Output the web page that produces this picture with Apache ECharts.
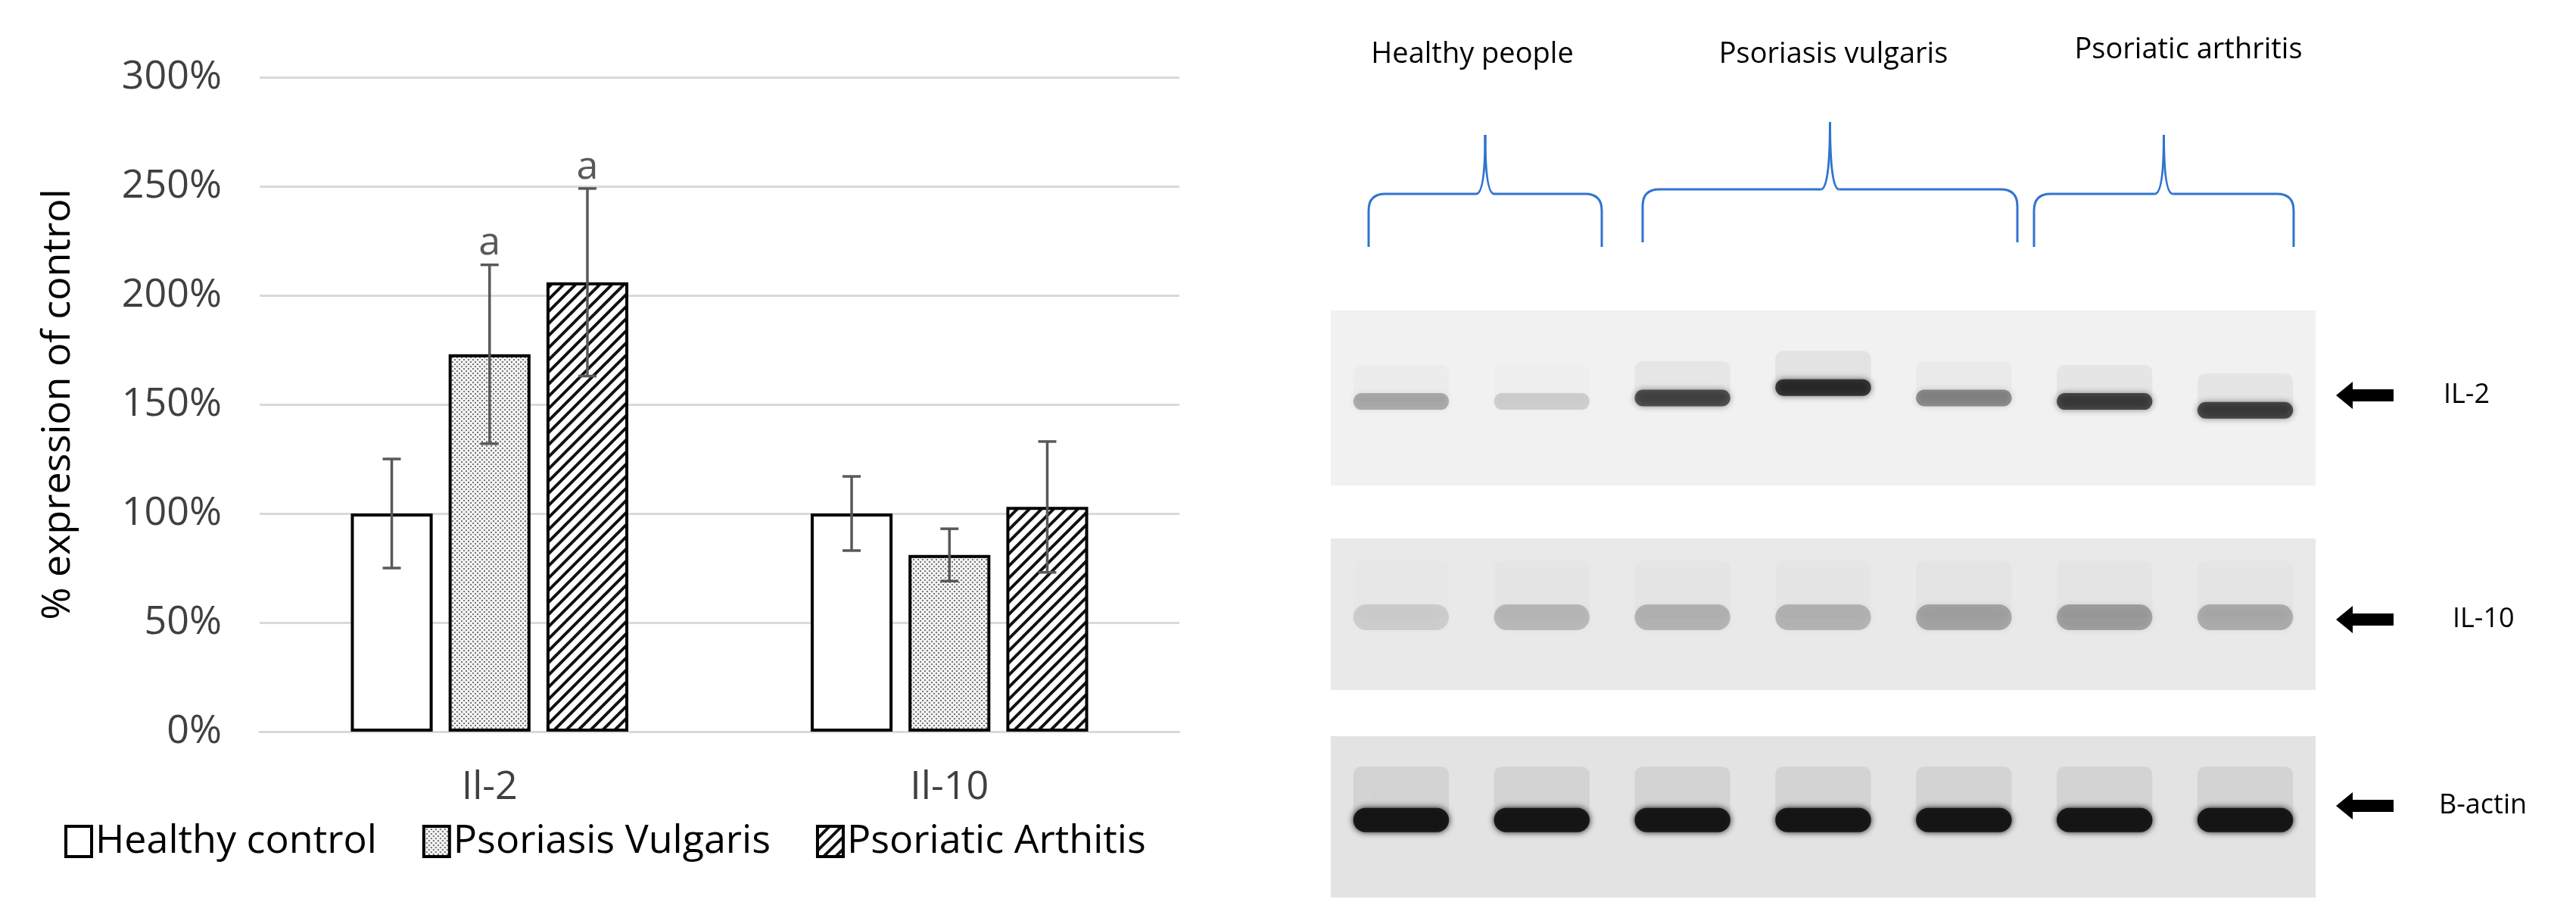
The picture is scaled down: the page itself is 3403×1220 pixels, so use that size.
<!DOCTYPE html>
<html>
<head>
<meta charset="utf-8">
<title>IL-2 / IL-10 expression</title>
<script src="https://cdn.jsdelivr.net/npm/echarts@6/dist/echarts.min.js"></script>
<style>html,body{margin:0;padding:0;background:#fff}#main{width:3403px;height:1220px}</style>
</head>
<body>
<div id="main"></div>
<script>
// 柱状图数据
var categories = ['Il-2', 'Il-10'];
var groups = ['Healthy control', 'Psoriasis Vulgaris', 'Psoriatic Arthitis'];
var healthy = [1.00, 1.00];
var vulgaris = [1.73, 0.81];
var arthritis = [2.06, 1.03];
var healthyErr = [0.25, 0.17];
var vulgarisErr = [0.41, 0.12];
var arthritisErr = [0.43, 0.30];
var vulgarisSig = ['a', ''];
var arthritisSig = ['a', ''];

// 印迹图数据（条带强度 0-1，纵向偏移）
var lanes = ['1', '2', '3', '4', '5', '6', '7'];
var il2Band = [0.35, 0.18, 0.8, 0.95, 0.5, 0.85, 0.85];
var il2Shift = [0, 0, 0.02, 0.08, 0.02, 0.0, -0.05];
var il10Band = [0.12, 0.2, 0.22, 0.22, 0.28, 0.3, 0.25];
var actinBand = [1, 1, 1, 1, 1, 1, 1];
var groupNames = ['Healthy people', 'Psoriasis vulgaris', 'Psoriatic arthritis'];
var blotLabels = ['IL-2', 'IL-10', 'B-actin'];

function dots() {
    var c = document.createElement('canvas'); c.width = 6; c.height = 6;
    var g = c.getContext('2d');
    g.fillStyle = '#f2f2f2'; g.fillRect(0, 0, 6, 6);
    g.fillStyle = '#777'; g.fillRect(0, 0, 2, 2); g.fillRect(3, 3, 2, 2);
    return {image: c, repeat: 'repeat'};
}
function hatch() {
    var s = 16;
    var c = document.createElement('canvas'); c.width = s; c.height = s;
    var g = c.getContext('2d');
    g.fillStyle = '#fff'; g.fillRect(0, 0, s, s);
    g.strokeStyle = '#111'; g.lineWidth = 4;
    g.beginPath();
    g.moveTo(-2, s + 2); g.lineTo(s + 2, -2);
    g.moveTo(-2, 2); g.lineTo(2, -2);
    g.moveTo(s - 2, s + 2); g.lineTo(s + 2, s - 2);
    g.stroke();
    return {image: c, repeat: 'repeat'};
}

var chart = echarts.init(document.getElementById('main'));
var font = '"Open Sans", sans-serif';
var values = [healthy, vulgaris, arthritis];
var errs = [healthyErr, vulgarisErr, arthritisErr];
var sigs = [['', ''], vulgarisSig, arthritisSig];
var fills = ['#fff', dots(), hatch()];
var barRatio = 0.178, gapRatio = 0.195;

var series = [];
groups.forEach(function (name, i) {
    series.push({
        name: name, type: 'bar', xAxisIndex: 0, yAxisIndex: 0,
        barWidth: (barRatio * 100) + '%', barGap: (gapRatio * 100) + '%',
        data: values[i],
        itemStyle: {color: fills[i], borderColor: '#000', borderWidth: 4}
    });
});
groups.forEach(function (name, i) {
    series.push({
        type: 'custom', xAxisIndex: 0, yAxisIndex: 0, z: 5,
        data: values[i].map(function (v, k) { return [k, v, errs[i][k]]; }),
        renderItem: function (params, api) {
            var band = api.size([1, 0])[0];
            var off = (i - 1) * band * barRatio * (1 + gapRatio);
            var v = api.value(1), e = api.value(2);
            var hi = api.coord([api.value(0), v + e]);
            var lo = api.coord([api.value(0), v - e]);
            var x = hi[0] + off, w = 12;
            var st = {stroke: '#595959', lineWidth: 3.5};
            var kids = [
                {type: 'line', shape: {x1: x, y1: hi[1], x2: x, y2: lo[1]}, style: st},
                {type: 'line', shape: {x1: x - w, y1: hi[1], x2: x + w, y2: hi[1]}, style: st},
                {type: 'line', shape: {x1: x - w, y1: lo[1], x2: x + w, y2: lo[1]}, style: st}
            ];
            var s = sigs[i][params.dataIndex];
            if (s) kids.push({type: 'text', style: {text: s, x: x, y: hi[1] - 2, align: 'center',
                verticalAlign: 'bottom', fill: '#595959', font: '52px ' + font}});
            return {type: 'group', children: kids};
        }
    });
});

function bandSeries(gi, data, shift, dark, h) {
    return {
        type: 'custom', xAxisIndex: gi, yAxisIndex: gi, silent: true,
        data: data.map(function (v, k) { return [k, v, shift ? shift[k] : 0]; }),
        renderItem: function (params, api) {
            var band = api.size([1, 0])[0];
            var p = api.coord([api.value(0), 0.52 - api.value(2)]);
            var a = api.value(1) * dark;
            var w = band * 0.68;
            return {type: 'group', children: [
                {type: 'rect', shape: {x: p[0] - w / 2, y: p[1] - h * 2.2, width: w, height: h * 2.2, r: 10},
                    style: {fill: 'rgba(0,0,0,' + (a * 0.07) + ')', shadowBlur: 20, shadowColor: 'rgba(0,0,0,' + (a * 0.07) + ')'}},
                {type: 'rect', shape: {x: p[0] - w / 2, y: p[1] - h / 2, width: w, height: h, r: h / 2},
                    style: {fill: 'rgba(20,20,20,' + a + ')', shadowBlur: 8, shadowColor: 'rgba(0,0,0,' + a + ')'}}
            ]};
        }
    };
}
series.push(bandSeries(1, il2Band, il2Shift, 0.8, 22));
series.push(bandSeries(2, il10Band, null, 1, 34));
series.push(bandSeries(3, actinBand, null, 0.95, 32));

var panels = [[410, 231, '#f1f1f1'], [711, 200, '#e9e9e9'], [972, 213, '#e3e3e3']];
var grids = [{left: 343, right: 1845, top: 102, bottom: 254}];
var xAxes = [{
    type: 'category', data: categories, gridIndex: 0,
    axisLine: {lineStyle: {color: '#d9d9d9', width: 3}}, axisTick: {show: false},
    axisLabel: {fontSize: 52, fontFamily: font, color: '#404040', margin: 48}
}];
var yAxes = [{
    type: 'value', gridIndex: 0, min: 0, max: 3, interval: 0.5,
    name: '% expression of control', nameLocation: 'middle', nameGap: 240,
    nameTextStyle: {fontSize: 52, fontFamily: font, color: '#000'},
    axisLabel: {fontSize: 52, fontFamily: font, color: '#404040', margin: 50,
        formatter: function (v) { return Math.round(v * 100) + '%'; }},
    splitLine: {lineStyle: {color: '#d9d9d9', width: 3}}
}];
panels.forEach(function (p, k) {
    grids.push({left: 1758, width: 1301, top: p[0], height: p[1], show: true,
        backgroundColor: p[2], borderWidth: 0});
    xAxes.push({type: 'category', data: lanes, gridIndex: k + 1, show: false});
    yAxes.push({type: 'value', gridIndex: k + 1, min: 0, max: 1, inverse: true, show: false});
});

// 蓝色大括号与箭头
function brace(x1, x2, y, tip) {
    var m = (x1 + x2) / 2, b = y + 70, r = 22;
    var st = {stroke: '#2f74d0', lineWidth: 3, fill: null};
    var L = function (a, b2, c, d) { return {type: 'line', shape: {x1: a, y1: b2, x2: c, y2: d}, style: st}; };
    var Q = function (a, b2, cx, cy, c, d) {
        return {type: 'bezierCurve', shape: {x1: a, y1: b2, cpx1: cx, cpy1: cy, x2: c, y2: d}, style: st};
    };
    return {type: 'group', children: [
        L(x1, b, x1, y + r), Q(x1, y + r, x1, y, x1 + r, y), L(x1 + r, y, m - 12, y),
        Q(m - 12, y, m, y, m, tip), Q(m, tip, m, y, m + 12, y), L(m + 12, y, x2 - r, y),
        Q(x2 - r, y, x2, y, x2, y + r), L(x2, y + r, x2, b)
    ]};
}
function arrow(x, y) {
    return {type: 'polygon', shape: {points: [[x, y], [x + 22, y - 18], [x + 22, y - 8], [x + 76, y - 8],
        [x + 76, y + 8], [x + 22, y + 8], [x + 22, y + 18]]}, style: {fill: '#000'}};
}
var graphic = [
    brace(1808, 2116, 256, 178), brace(2170, 2665, 250, 161), brace(2687, 3030, 256, 178),
    arrow(3086, 522), arrow(3086, 818), arrow(3086, 1064)
];
var gx = [1945, 2422, 2891], gy = [72, 72, 66];
groupNames.forEach(function (t, k) {
    graphic.push({type: 'text', style: {text: t, x: gx[k], y: gy[k], align: 'center', verticalAlign: 'middle',
        font: '38px ' + font, fill: '#000'}});
});
var ly = [522, 818, 1064], lx = [3228, 3240, 3222];
blotLabels.forEach(function (t, k) {
    graphic.push({type: 'text', style: {text: t, x: lx[k], y: ly[k], verticalAlign: 'middle',
        font: '36px ' + font, fill: '#000'}});
});

chart.setOption({
    animation: false,
    grid: grids, xAxis: xAxes, yAxis: yAxes,
    legend: {
        data: groups, left: 80, top: 1080, icon: 'rect', itemWidth: 34, itemHeight: 40, itemGap: 60,
        textStyle: {fontSize: 52, fontFamily: font, color: '#000'},
        itemStyle: {borderColor: '#000', borderWidth: 4}
    },
    graphic: graphic,
    series: series
});
</script>
</body>
</html>
